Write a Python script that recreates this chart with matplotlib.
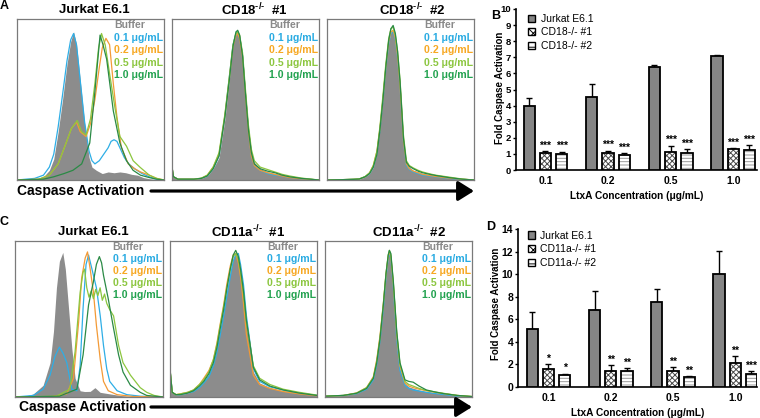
import numpy as np
import matplotlib
matplotlib.use("Agg")
import matplotlib.pyplot as plt
from matplotlib.patches import FancyArrowPatch, Patch

plt.rcParams['font.family'] = ['Liberation Sans', 'DejaVu Sans']
plt.rcParams['mathtext.fontset'] = 'custom'
plt.rcParams['mathtext.rm'] = 'Liberation Sans:bold'
plt.rcParams['mathtext.bf'] = 'Liberation Sans:bold'
plt.rcParams['mathtext.it'] = 'Liberation Sans:bold'
plt.rcParams['mathtext.default'] = 'bf'
plt.rcParams['hatch.linewidth'] = 0.7

# ---------------- histogram data (x: % of channel range, y: % of panel height) ----
A1_BUF_X = [0, 12, 18, 22, 25, 28, 31, 34, 36.5, 38.5, 40.5, 43, 46, 49, 51, 54, 58, 62, 66, 70, 74, 78, 82, 86, 90, 95, 100]
A1_BUF_Y = [0, 0.5, 2, 6, 13, 30, 50, 72, 86, 92, 84, 62, 35, 14, 8, 6, 4, 5, 4.5, 5, 4.5, 3.5, 3, 1.5, 0.8, 0.3, 0]
A1_01_X = [0, 12, 18, 22, 25, 28, 31, 34, 36.5, 38.5, 40.5, 43, 46, 49, 51, 53, 56, 59, 62, 64, 66, 68, 70, 73, 76, 80, 85, 90, 95, 100]
A1_01_Y = [0, 1, 3, 8, 16, 33, 53, 74, 87, 91, 84, 62, 36, 18, 12, 10, 12, 16, 20, 24, 25, 24, 20, 14, 10, 7, 4, 2, 0.5, 0]
A1_02_X = [0, 15, 22, 28, 33, 37, 40.5, 43, 47, 50, 53, 56, 58, 60.5, 63, 65.5, 68, 71, 75.7, 80, 84, 90, 95, 100]
A1_02_Y = [0, 0.5, 3, 10, 22, 32, 36, 30, 27, 35, 50, 70, 82, 88, 84, 60, 39, 20, 10, 7, 5, 3, 1, 0]
A1_05_X = [0, 15, 22, 28, 33, 37, 41, 44, 47, 50, 53, 55.5, 57.5, 60, 63, 66.6, 70, 74.5, 79, 83.6, 90, 95, 100]
A1_05_Y = [0, 0.5, 3, 10, 22, 32, 37, 30, 28, 38, 60, 82, 91, 84, 66, 45, 27, 21, 12, 8, 3, 1, 0]
A1_10_X = [0, 18, 25, 32, 38, 44, 49.5, 53, 56.5, 58.5, 61, 65.5, 70, 74.5, 79, 84, 90, 95, 100]
A1_10_Y = [0, 0.5, 2, 4, 6, 10, 23, 55, 90, 84, 75, 43, 23, 12, 6, 3, 1.5, 0.5, 0]

A2_X = [0, 1, 4, 15, 20, 24, 28, 32, 36, 39, 41.5, 43.5, 44.7, 46, 48, 50, 52, 54, 56, 60, 65, 70, 75, 80, 88, 100]
A2_BUF = [8, 2, 0.5, 0.5, 1, 2.5, 7, 14, 38, 62, 85, 91, 92.5, 90, 78, 55, 33, 18, 11, 7, 5, 4, 3, 2, 1, 0]
A2_01 = [8, 2, 0.5, 0.5, 1, 2.5, 7, 15, 40, 64, 84, 91, 92, 89, 77, 53, 31, 16, 9, 6, 4, 3, 2.5, 1.5, 0.8, 0]
A2_02 = [8, 2, 0.5, 0.5, 1, 3, 8, 16, 40, 63, 83, 90, 91, 88, 76, 52, 30, 15, 9, 6, 4.5, 3.5, 2.5, 1.5, 0.8, 0]
A2_05 = [8, 2, 0.5, 0.5, 1.2, 3, 8, 17, 41, 64, 84, 91, 92, 90, 79, 56, 34, 19, 12, 8, 6.5, 5, 3.5, 2.5, 1.2, 0]
A2_10 = [8, 2, 0.5, 0.5, 1, 2.5, 7, 15, 39, 62, 83, 92, 93, 90, 77, 53, 31, 17, 10, 7, 5.5, 4.5, 3, 2, 1, 0]

A3_X = [0, 10, 18, 22, 26, 29, 31.5, 34, 36, 38, 40, 42, 43.5, 45, 46.5, 48, 49.7, 52, 54, 56, 58.7, 62, 65, 70, 74, 83, 92, 100]
A3_BUF = [0, 0.2, 0.4, 0.5, 2, 4, 8, 17, 32, 50, 70, 86, 92, 93, 88, 78, 60, 25, 10, 8, 6, 5, 4, 3.2, 2.7, 1.5, 0.5, 0]
A3_01 = [0, 0.2, 0.4, 0.6, 2, 4, 8, 17, 31, 49, 69, 85, 91, 92, 87, 76, 58, 24, 9, 6.5, 5, 4, 3, 2.5, 2, 1, 0.4, 0]
A3_02 = [0, 0.2, 0.4, 0.6, 2, 4.5, 9, 18, 32, 50, 70, 86, 92, 93, 88, 77, 58, 24, 10, 7, 5.5, 4.5, 3.5, 2.8, 2.2, 1.2, 0.5, 0]
A3_05 = [0, 0.2, 0.5, 0.7, 2.2, 4.5, 9, 18, 33, 52, 72, 88, 94, 95, 90, 80, 62, 28, 12, 9, 7.5, 6, 5, 3.8, 3, 1.8, 0.6, 0]
A3_10 = [0, 0.2, 0.4, 0.6, 2, 4, 8, 16, 31, 49, 70, 87, 94, 96, 91, 80, 61, 26, 11, 8.5, 7, 5.5, 4.5, 3.5, 2.8, 1.5, 0.5, 0]

C1_BUF_X = [0, 6.8, 12.4, 19, 23.7, 26, 28, 30, 32.3, 34, 36, 38.4, 40.6, 44, 47, 50.8, 54, 57.5, 64, 71, 80, 100]
C1_BUF_Y = [0, 0.5, 2, 7.5, 22, 42, 70, 87, 92.7, 82, 59, 31, 12, 4, 3.5, 3.6, 6, 3, 2, 1, 0.3, 0]
C1_01_X = [0, 12.4, 19, 23.7, 27, 30, 32.5, 35, 38.4, 41.8, 44, 46, 48, 49.7, 52, 55, 57.6, 59.8, 62, 64, 69, 75.6, 85, 100]
C1_01_Y = [0, 1, 5, 14, 26, 32, 28, 22, 5, 4, 20, 57, 85, 91, 82, 70, 52, 33, 18, 10, 4, 1.5, 0.5, 0]
C1_02_X = [0, 25, 35, 39.5, 43, 45, 47.4, 49, 50.8, 53, 55, 57.6, 59.8, 63, 69, 80, 100]
C1_02_Y = [0, 0.3, 2, 12, 48, 76, 89, 93, 82, 67, 46, 24, 10, 4, 1.5, 0.3, 0]
C1_05_X = [0, 28, 37, 40.6, 44, 46, 47, 48.5, 50, 51.5, 53, 54.5, 56, 57.5, 59, 60.5, 62, 64, 66.6, 70, 73, 78, 84.6, 89, 94, 100]
C1_05_Y = [0, 0.5, 5, 29, 67, 80, 82, 70, 64, 68, 63, 69, 65, 70, 62, 66, 60, 56, 52, 33, 22, 14, 6, 3, 1, 0]
C1_10_X = [0, 30, 41.8, 46, 49.7, 53, 55, 57, 58.5, 59.8, 63, 66.6, 70, 73, 78, 84.6, 89, 100]
C1_10_Y = [0, 0.5, 5, 27, 59, 74, 85, 90, 86, 78, 63, 44, 27, 16, 7.5, 3, 1, 0]

C2_X = [0, 1.5, 4, 7, 12, 16, 20, 23, 26.5, 29.5, 32, 34, 36.5, 38.6, 41, 43, 44.7, 46.5, 48, 50, 52, 54.4, 56.7, 61, 68, 77, 88, 100]
C2_BUF = [18, 3, 1.5, 1.5, 2.5, 4, 7, 10, 15, 22, 32, 42, 55, 67, 80, 89, 93, 88, 80, 65, 45, 31, 16, 9, 6, 4, 2.5, 1]
C2_01 = [18, 3, 1.5, 1.5, 2.5, 3.5, 6, 9, 13, 20, 29, 39, 52, 64, 77, 87, 91, 92, 85, 72, 52, 35, 18, 10, 6.5, 4.5, 2.5, 1]
C2_02 = [18, 3, 1.5, 2, 3, 4.5, 8, 12, 17, 24, 35, 46, 59, 72, 84, 91, 92, 86, 77, 60, 40, 27, 14, 8, 5.5, 3.5, 2, 0.8]
C2_05 = [18, 3, 1.5, 2, 3, 4.5, 8, 11, 16, 24, 34, 45, 58, 70, 82, 90, 92, 88, 80, 66, 48, 34, 20, 12, 8, 5, 3, 1.2]
C2_10 = [18, 3, 1.5, 1.5, 2.5, 4, 7, 10, 15, 22, 32, 43, 56, 69, 82, 91, 94, 90, 82, 68, 49, 34, 19, 11, 7, 4.5, 2.5, 1]

C3_X = [0, 12.5, 21.5, 28.3, 32.9, 35.2, 37.4, 39.7, 41.5, 43, 43.8, 44.8, 46.5, 48.8, 51, 54.4, 57, 60, 64, 69, 75, 80.5, 90, 100]
C3_BUF = [0.5, 1, 2.4, 5.6, 12, 22.6, 37.6, 59, 78, 90, 93, 90, 70, 37.6, 18, 8.5, 6.5, 5.6, 4.5, 3.5, 2.7, 2, 0.8, 0.3]
C3_01 = [0.5, 1, 2.2, 5, 11, 21, 36, 57, 77, 89, 92, 89, 70, 37, 17, 7.5, 5.5, 4.5, 3.8, 3, 2.2, 1.6, 0.6, 0.2]
C3_02 = [0.5, 1, 2.6, 6, 13, 24, 39, 60, 79, 90, 93, 90, 72, 40, 20, 9, 7, 6, 5, 4, 3, 2.2, 1, 0.3]
C3_05 = [0.5, 1, 2.5, 6, 12.5, 23, 38, 60, 79, 91, 94, 91, 73, 41, 21, 10, 8, 7, 5.5, 4.2, 3.2, 2.4, 1, 0.3]
C3_10 = [0.5, 1, 2.4, 5.5, 12, 22, 37, 59, 79, 91, 94, 92, 74, 42, 22, 11, 10, 9.5, 7, 4.5, 3.2, 2.2, 1, 0.3]

HIST_LABELS = ["Buffer", "0.1 μg/mL", "0.2 μg/mL", "0.5 μg/mL", "1.0 μg/mL"]

# ---------------- bar data ----------------
CONC = ["0.1", "0.2", "0.5", "1.0"]
B_LABELS = ["Jurkat E6.1", "CD18-/- #1", "CD18-/- #2"]
B_JURKAT = [3.95, 4.55, 6.42, 7.08]
B_JURKAT_ERR = [0.52, 0.8, 0.12, 0.06]
B_KO1 = [1.06, 1.05, 1.1, 1.3]
B_KO1_ERR = [0.1, 0.14, 0.4, 0.05]
B_KO2 = [1.02, 0.92, 1.08, 1.22]
B_KO2_ERR = [0.1, 0.13, 0.22, 0.33]
B_STARS1 = ["***", "***", "***", "***"]
B_STARS2 = ["***", "***", "***", "***"]

D_LABELS = ["Jurkat E6.1", "CD11a-/- #1", "CD11a-/- #2"]
D_JURKAT = [5.12, 6.86, 7.5, 10.02]
D_JURKAT_ERR = [1.54, 1.68, 1.15, 2.02]
D_KO1 = [1.57, 1.43, 1.42, 2.12]
D_KO1_ERR = [0.45, 0.5, 0.32, 0.63]
D_KO2 = [1.09, 1.42, 0.88, 1.12]
D_KO2_ERR = [0.09, 0.22, 0.09, 0.3]
D_STARS1 = ["*", "**", "**", "**"]
D_STARS2 = ["*", "**", "**", "***"]

# ---------------- styling ----------------
W, H = 760, 418
fig = plt.figure(figsize=(W / 100, H / 100), dpi=100)

GRAY_FILL = "#8c8c8c"
LINE_COLORS = ["#2eaee6", "#f39a36", "#8cc63f", "#2a8a45"]
TEXT_COLORS = ["#8a8a8a", "#29abe2", "#f7a823", "#8cc63f", "#22a24f"]


def px_axes(l, t, r, b):
    return fig.add_axes([l / W, 1 - b / H, (r - l) / W, (b - t) / H])


def fig_text(xp, yp, s, **kw):
    fig.text(xp / W, 1 - yp / H, s, **kw)


def hist_panel(box, buf_x, buf_y, curves, title, title_xy):
    ax = px_axes(*box)
    ax.fill_between(buf_x, buf_y, 0, color=GRAY_FILL, lw=0, zorder=1)
    for (cx, cy), col in zip(curves, LINE_COLORS):
        ax.plot(cx, cy, color=col, lw=0.9, zorder=2)
    ax.set_xlim(0, 100)
    ax.set_ylim(0, 100)
    ax.set_xticks([])
    ax.set_yticks([])
    for sp in ax.spines.values():
        sp.set_color("#7a7a7a")
        sp.set_linewidth(0.9)
    for i, (lab, col) in enumerate(zip(HIST_LABELS, TEXT_COLORS)):
        ax.text(0.66, 0.96 - i * 0.077, lab, color=col, fontsize=7.6,
                fontweight="bold", ha="left", va="center", transform=ax.transAxes)
    fig_text(title_xy[0], title_xy[1], title, fontsize=9.5, fontweight="bold",
             ha="center", va="center")
    return ax


# Row 1 histograms
hist_panel((17, 19, 164, 180), A1_BUF_X, A1_BUF_Y,
           [(A1_01_X, A1_01_Y), (A1_02_X, A1_02_Y), (A1_05_X, A1_05_Y), (A1_10_X, A1_10_Y)],
           "Jurkat E6.1", (94, 10))
hist_panel((172, 19, 319, 180), A2_X, A2_BUF,
           [(A2_X, A2_01), (A2_X, A2_02), (A2_X, A2_05), (A2_X, A2_10)],
           r"CD18$^{\text{-/-}}$  #1", (254, 10))
hist_panel((327, 19, 474, 180), A3_X, A3_BUF,
           [(A3_X, A3_01), (A3_X, A3_02), (A3_X, A3_05), (A3_X, A3_10)],
           r"CD18$^{\text{-/-}}$  #2", (412, 10))

# Row 2 histograms
hist_panel((15, 241, 163, 397), C1_BUF_X, C1_BUF_Y,
           [(C1_01_X, C1_01_Y), (C1_02_X, C1_02_Y), (C1_05_X, C1_05_Y), (C1_10_X, C1_10_Y)],
           "Jurkat E6.1", (93, 232))
hist_panel((170, 241, 317, 397), C2_X, C2_BUF,
           [(C2_X, C2_01), (C2_X, C2_02), (C2_X, C2_05), (C2_X, C2_10)],
           r"CD11a$^{\text{-/-}}$  #1", (248, 232))
hist_panel((325, 241, 472, 397), C3_X, C3_BUF,
           [(C3_X, C3_01), (C3_X, C3_02), (C3_X, C3_05), (C3_X, C3_10)],
           r"CD11a$^{\text{-/-}}$  #2", (409, 232))

# Caspase activation arrows
for (tx, ty, x0, x1) in [(17, 191, 151, 474), (19, 407, 151, 472)]:
    fig_text(tx, ty, "Caspase Activation", fontsize=10, fontweight="bold",
             ha="left", va="center")
    arr = FancyArrowPatch((x0 / W, 1 - ty / H), (x1 / W, 1 - ty / H),
                          transform=fig.transFigure, arrowstyle="-|>,head_length=0.8,head_width=0.5",
                          mutation_scale=12, lw=2.3, color="black",
                          shrinkA=0, shrinkB=0)
    fig.add_artist(arr)


def bar_panel(box, xlim, ylim, yticks, jur, jur_err, ko1, ko1_err, ko2, ko2_err,
              stars1, stars2, labels, star_off, ytick_fs, legend_anchor):
    ax = px_axes(*box)
    pos = np.arange(len(CONC))
    wd = 0.18
    off = 0.26
    ax.bar(pos - off, jur, wd, color="#858585", edgecolor="black", lw=1.3, zorder=3)
    ax.bar(pos, ko1, wd, color="white", edgecolor="#4a4a4a", hatch="xxxxxx", lw=0, zorder=3)
    ax.bar(pos, ko1, wd, fill=False, edgecolor="black", lw=1.3, zorder=4)
    ax.bar(pos + off, ko2, wd, color="white", edgecolor="#9a9a9a", hatch="-----", lw=0, zorder=3)
    ax.bar(pos + off, ko2, wd, fill=False, edgecolor="black", lw=1.3, zorder=4)
    for p, v, e in [(pos - off, jur, jur_err), (pos, ko1, ko1_err), (pos + off, ko2, ko2_err)]:
        ax.errorbar(p, v, yerr=[np.zeros(len(v)), e], fmt="none", ecolor="black",
                    elinewidth=1.0, capsize=2.5, capthick=1.0, zorder=2)
    for p, v, e, st in [(pos, ko1, ko1_err, stars1), (pos + off, ko2, ko2_err, stars2)]:
        for xi, vi, ei, si in zip(p, v, e, st):
            ax.text(xi, vi + ei + star_off, si, ha="center", va="bottom",
                    fontsize=7.5, fontweight="bold")
    ax.set_xlim(*xlim)
    ax.set_ylim(*ylim)
    ax.set_yticks(yticks)
    ax.set_xticks(pos)
    ax.set_xticklabels(CONC, fontsize=7.5, fontweight="bold")
    ax.tick_params(axis="x", length=0, pad=4)
    ax.tick_params(axis="y", length=2.5, width=1, pad=1, labelsize=ytick_fs)
    for t in ax.get_yticklabels():
        t.set_fontweight("bold")
    ax.spines["top"].set_visible(False)
    ax.spines["right"].set_visible(False)
    ax.spines["left"].set_linewidth(1.2)
    ax.spines["bottom"].set_linewidth(1.2)
    handles = [Patch(facecolor="#858585", edgecolor="black", lw=1),
               Patch(facecolor="white", edgecolor="black", hatch="xxxx", lw=1),
               Patch(facecolor="white", edgecolor="black", hatch="---", lw=1)]
    ax.legend(handles, labels, loc="upper left", bbox_to_anchor=legend_anchor,
              frameon=False, fontsize=7.5, handlelength=0.7, handleheight=0.7,
              handletextpad=0.5, labelspacing=0.35, borderaxespad=0, borderpad=0)
    ax.set_xlabel("LtxA Concentration (μg/mL)", fontsize=7.3, fontweight="bold", labelpad=4)
    return ax


bar_panel((516, 9, 757, 170), (-0.47, 3.38), (0, 10), range(0, 11),
          B_JURKAT, B_JURKAT_ERR, B_KO1, B_KO1_ERR, B_KO2, B_KO2_ERR,
          B_STARS1, B_STARS2, B_LABELS, 0.04, 6.8, (0.05, 0.97))
fig_text(500, 88, "Fold Caspase Activation", fontsize=7.0, fontweight="bold",
         rotation=90, ha="center", va="center")

bar_panel((518, 229, 757, 387), (-0.49, 3.35), (0, 14), range(0, 15, 2),
          D_JURKAT, D_JURKAT_ERR, D_KO1, D_KO1_ERR, D_KO2, D_KO2_ERR,
          D_STARS1, D_STARS2, D_LABELS, 0.05, 7.5, (0.04, 0.99))
fig_text(496, 304, "Fold Caspase Activation", fontsize=7.0, fontweight="bold",
         rotation=90, ha="center", va="center")

# panel letters
for lab, xp, yp in [("A", 4, 6), ("B", 496, 16), ("C", 4, 222), ("D", 491, 227)]:
    fig_text(xp, yp, lab, fontsize=9, fontweight="bold", ha="center", va="center")

fig.savefig("out.png", dpi=100)
